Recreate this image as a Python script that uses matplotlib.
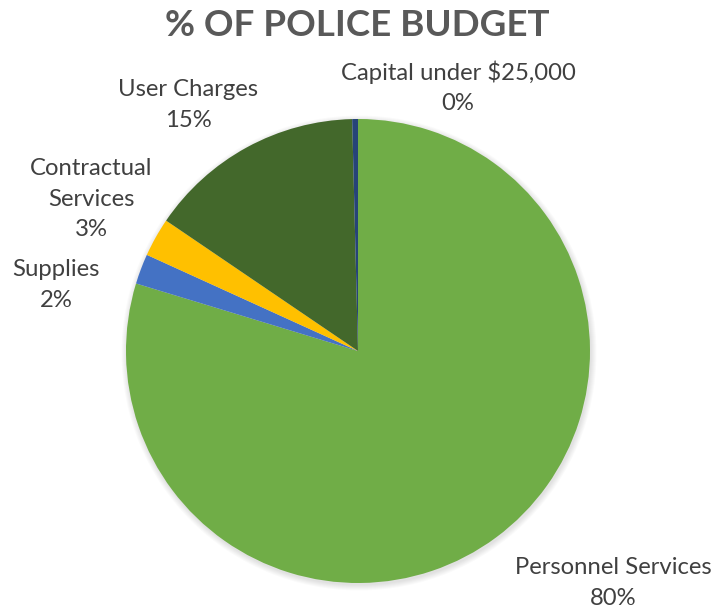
import matplotlib.pyplot as plt
from matplotlib.patches import Circle

# budget shares, clockwise from 12 o'clock
categories = ["Personnel Services", "Supplies", "Contractual\nServices",
              "User Charges", "Capital under $25,000"]
shares = [79.7, 2.1, 2.7, 15.1, 0.4]
colors = ["#70AD47", "#4472C4", "#FFC000", "#43682B", "#264478"]

# label anchors in pixel space (x, y from top)
label_pos = [(613, 583), (56, 285), (91, 199), (188, 105), (458, 87)]

W, H = 714, 610
plt.rcParams["font.family"] = ["Lato", "DejaVu Sans"]

fig = plt.figure(figsize=(W / 100, H / 100), dpi=100)
ax = fig.add_axes([0, 0, 1, 1])

cx, cy, r = 358, H - 351, 232

# soft shadow round the pie
for i in range(6):
    ax.add_patch(Circle((cx + 1, cy - 2), r + 0.5 + i * 1.0, color="black",
                        alpha=0.018, lw=0, zorder=0))

ax.pie(shares, colors=colors, startangle=90, counterclock=False,
       center=(cx, cy), radius=r, frame=True,
       wedgeprops=dict(linewidth=0))
ax.set_xlim(0, W)
ax.set_ylim(0, H)
ax.set_aspect("equal")
ax.axis("off")

total = sum(shares)
for name, val, (x, y) in zip(categories, shares, label_pos):
    ax.text(x, H - y, f"{name}\n{val / total * 100:.0f}%", ha="center",
            va="center", fontsize=17.2, color="#404040", linespacing=1.55)

ax.text(W / 2, H - 25, "% OF POLICE BUDGET", ha="center", va="center",
        fontsize=26.5, fontweight="bold", color="#595959")

fig.savefig("out.png", dpi=100)
